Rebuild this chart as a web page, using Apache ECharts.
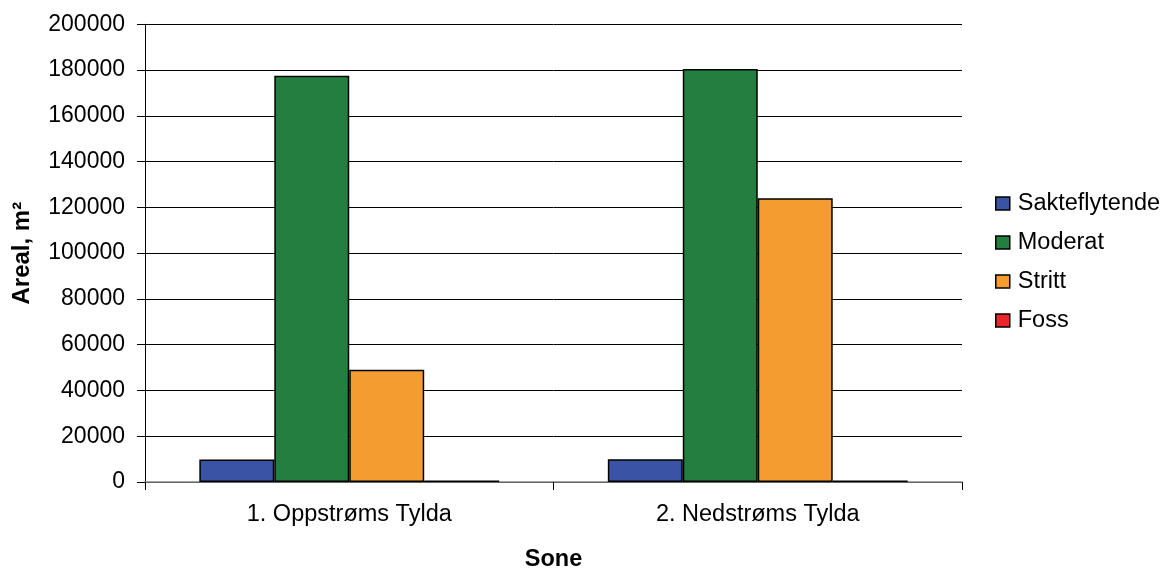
<!DOCTYPE html>
<html><head><meta charset="utf-8">
<script src="https://cdn.jsdelivr.net/npm/echarts@6/dist/echarts.min.js"></script>
<style>html,body{margin:0;padding:0;background:#fff}#c{width:1162px;height:577px}</style>
</head><body><div id="c"></div>
<script>
const categories = ['1. Oppstrøms Tylda', '2. Nedstrøms Tylda'];
const seriesNames = ['Sakteflytende', 'Moderat', 'Stritt', 'Foss'];
const sakteflytende = [9800, 9900];
const moderat = [177500, 180500];
const stritt = [49000, 124000];
const foss = [700, 700];
const colors = ['#3A53A4', '#237F3F', '#F49C2F', '#E8262B'];
const values = [sakteflytende, moderat, stritt, foss];
const font = 'Liberation Sans, Arial, sans-serif';

const chart = echarts.init(document.getElementById('c'));
chart.setOption({
  animation: false,
  textStyle: {fontFamily: font},
  grid: {left: 145, right: 200, top: 24.3, bottom: 90},
  legend: {
    orient: 'vertical', left: 990, top: 185.5, itemGap: 13,
    itemWidth: 14, itemHeight: 13, icon: 'rect',
    textStyle: {fontSize: 23.5, lineHeight: 26, color: '#000', fontFamily: font, padding: [0,0,0,3]},
    data: seriesNames.map((n, i) => ({name: n, itemStyle: {color: colors[i], borderColor: '#000', borderWidth: 1.5}}))
  },
  xAxis: {
    type: 'category', data: categories,
    name: 'Sone', nameLocation: 'middle', nameGap: 66,
    nameTextStyle: {fontSize: 23.5, fontWeight: 'bold', color: '#000', verticalAlign: 'top'},
    axisLine: {lineStyle: {color: '#888', width: 1.5}},
    axisTick: {show: true, length: 8, lineStyle: {color: '#000'}},
    axisLabel: {fontSize: 23.5, color: '#000', margin: 21}
  },
  yAxis: {
    type: 'value', min: 0, max: 200000, interval: 20000,
    name: 'Areal, m²', nameLocation: 'middle', nameGap: 111,
    nameTextStyle: {fontSize: 24, fontWeight: 'bold', color: '#000'},
    axisLine: {show: true, lineStyle: {color: '#000', width: 1}},
    axisTick: {show: true, length: 8, lineStyle: {color: '#000'}},
    axisLabel: {fontSize: 23, color: '#000', margin: 20, formatter: v => String(v)},
    splitLine: {lineStyle: {color: '#000', width: 1}}
  },
  series: seriesNames.map((n, i) => ({
    name: n, type: 'bar', data: values[i],
    barGap: '0%', barCategoryGap: '26.6%',
    itemStyle: {color: colors[i], borderColor: '#000', borderWidth: 1.5}
  }))
});
</script></body></html>
